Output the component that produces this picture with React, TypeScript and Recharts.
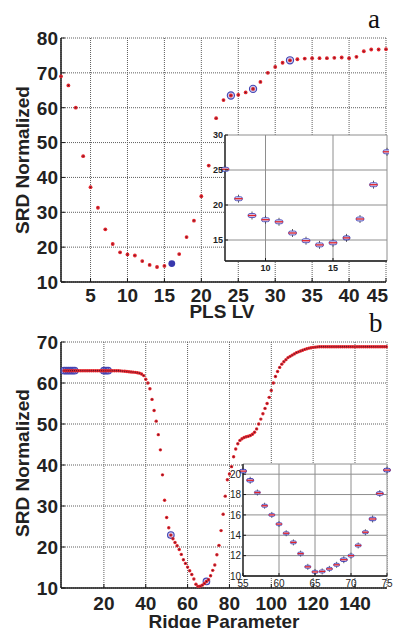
import { ScatterChart, Scatter, XAxis, YAxis, CartesianGrid } from 'recharts';

// ---- panel a: SRD vs PLS latent variables ----
const plsLv = [
  1, 2, 3, 4, 5, 6, 7, 8, 9, 10, 11, 12, 13, 14, 15, 16, 17, 18, 19, 20, 21, 22, 23,
  24, 25, 26, 27, 28, 29, 30, 31, 32, 33, 34, 35, 36, 37, 38, 39, 40, 41, 42, 43, 44, 45,
];
const srdPls = [
  69.0, 66.4, 60.0, 46.1, 37.2, 31.3, 25.1, 20.9, 18.5, 17.9, 17.6, 16.0, 14.9, 14.3, 14.6,
  15.3, 18.0, 22.9, 27.6, 34.6, 43.4, 57.0, 62.2, 63.5, 63.7, 64.4, 65.4, 67.4, 70.0, 71.7,
  72.9, 73.6, 73.9, 74.1, 74.2, 74.2, 74.2, 74.3, 74.4, 74.2, 74.6, 76.2, 76.7, 76.7, 76.8,
];
const plsRingLv = [24, 27, 32];
const plsFilledLv = [16];
const plsTicks = [5, 10, 15, 20, 25, 30, 35, 40, 45];
const srdTicksA = [10, 20, 30, 40, 50, 60, 70, 80];
const insetATicksX = [10, 15];
const insetATicksY = [15, 20, 25, 30];

// ---- panel b: SRD vs ridge parameter index ----
const srdRidge = [
  63.0, 63.0, 63.0, 63.0, 63.0, 63.0, 63.0, 63.0, 63.0, 63.0,
  63.0, 63.0, 63.0, 63.0, 63.0, 63.0, 63.0, 63.0, 63.0, 63.0,
  63.0, 63.0, 63.0, 63.0, 63.0, 63.0, 63.0, 62.95, 62.9, 62.85,
  62.8, 62.75, 62.7, 62.65, 62.6, 62.5, 62.4, 62.2, 61.8, 60.9,
  60.0, 58.6, 56.0, 53.3, 50.7, 47.4, 43.7, 37.6, 31.4, 27.2,
  24.7, 22.9, 22.0, 21.1, 20.3, 19.4, 18.2, 16.9, 16.0, 15.1,
  14.2, 13.3, 12.2, 10.9, 10.4, 10.45, 10.7, 11.1, 11.6, 12.0,
  13.0, 14.3, 15.6, 18.1, 20.4, 24.0, 28.0, 32.4, 36.4, 37.8,
  39.6, 42.0, 43.9, 45.2, 46.0, 46.4, 46.7, 46.9, 47.0, 47.2,
  47.5, 48.0, 48.8, 50.0, 51.2, 52.5, 53.8, 55.0, 56.5, 58.2,
  60.0, 61.6, 62.8, 63.8, 64.6, 65.2, 65.7, 66.2, 66.5, 66.8,
  67.1, 67.4, 67.6, 67.8, 68.0, 68.2, 68.35, 68.5, 68.6, 68.7,
  68.75, 68.8, 68.85, 68.85, 68.85, 68.85, 68.85, 68.85, 68.85, 68.85,
  68.85, 68.85, 68.85, 68.85, 68.85, 68.85, 68.85, 68.85, 68.85, 68.85,
  68.85, 68.85, 68.85, 68.85, 68.85, 68.85, 68.85, 68.85, 68.85, 68.85,
  68.85, 68.85, 68.85, 68.85, 68.85,
];
const ridgeBlue = [1, 2, 3, 4, 5, 6, 20, 21, 22, 52, 69];
const insetBBlue = [55, 56, 69, 73, 74, 75];
const ridgeTicks = [20, 40, 60, 80, 100, 120, 140];
const srdTicksB = [10, 20, 30, 40, 50, 60, 70];
const insetBTicksX = [55, 60, 65, 70, 75];
const insetBTicksY = [10, 12, 14, 16, 18, 20];

const FONT = '"Liberation Sans", Arial, Helvetica, sans-serif';
const SERIF = '"Liberation Serif", "Times New Roman", serif';
const RED = '#e3242b';
const BLUE = '#4444b2';
const FRAME = '#1a1a1a';

const plsPoints = plsLv.map((x, i) => ({ x, y: srdPls[i] }));
const pick = (pts: { x: number; y: number }[], xs: number[]) => pts.filter((p) => xs.includes(p.x));
const ridgePoints = srdRidge.map((y, i) => ({ x: i + 1, y }));

const bottomTick = (size: number, offset: number, weight: any, len: number, rightLimit = 9999) => (props: any) => {
  const { x, y, payload } = props;
  const atEdge = x + size * 0.6 > rightLimit;
  return (
    <g>
      <line x1={x} x2={x} y1={y} y2={y - len} stroke={FRAME} strokeWidth={1} />
      <text
        x={atEdge ? rightLimit : x}
        y={y + offset}
        dy="0.36em"
        textAnchor={atEdge ? 'end' : 'middle'}
        fontSize={size}
        fontWeight={weight}
        fontFamily={FONT}
        fill="#222"
      >
        {payload.value}
      </text>
    </g>
  );
};

const leftTick = (size: number, gap: number, weight: any, len: number) => (props: any) => {
  const { x, y, payload } = props;
  return (
    <g>
      <line x1={x} x2={x + len} y1={y} y2={y} stroke={FRAME} strokeWidth={1} />
      <text x={x - gap} y={y} dy="0.36em" textAnchor="end" fontSize={size} fontWeight={weight} fontFamily={FONT} fill="#222">
        {payload.value}
      </text>
    </g>
  );
};

const topTick = (len: number) => (props: any) => (
  <line x1={props.x} x2={props.x} y1={props.y} y2={props.y + len} stroke={FRAME} strokeWidth={1} />
);
const rightTick = (len: number) => (props: any) => (
  <line x1={props.x} x2={props.x - len} y1={props.y} y2={props.y} stroke={FRAME} strokeWidth={1} />
);

const redDot = (r: number) => (p: any) => (
  <g>
    <circle cx={p.cx} cy={p.cy} r={r} fill={RED} />
    <circle cx={p.cx} cy={p.cy} r={0.6} fill="#3a1830" />
  </g>
);
const blueRing = (r: number) => (p: any) => (
  <circle cx={p.cx} cy={p.cy} r={r} fill="rgba(110,110,205,0.35)" stroke={BLUE} strokeWidth={1.1} />
);
const blueFilled = (p: any) => <circle cx={p.cx} cy={p.cy} r={3.4} fill="#3838ad" />;
const boxMark = (w: number, h: number, edge = '#5050bb') => (p: any) => (
  <g>
    <line x1={p.cx} x2={p.cx} y1={p.cy - h} y2={p.cy + h} stroke="#333" strokeWidth={0.8} />
    <rect x={p.cx - w / 2} y={p.cy - h / 2} width={w} height={h} rx={h / 2} fill="#d4d4f2" stroke={edge} strokeWidth={0.9} />
    <line x1={p.cx - w / 2} x2={p.cx + w / 2} y1={p.cy} y2={p.cy} stroke={RED} strokeWidth={1.3} />
  </g>
);
const hidden = () => <g />;

interface FrameAxesProps {
  xDomain: number[];
  yDomain: number[];
  xTicks: number[];
  yTicks: number[];
}

// four axes giving a MATLAB-style box with inward ticks
function frameAxes(
  { xDomain, yDomain, xTicks, yTicks }: FrameAxesProps,
  xTick: any,
  yTick: any,
  xHeight: number,
  yWidth: number,
  len: number,
  stroke: number
) {
  const line = { stroke: FRAME, strokeWidth: stroke };
  return [
    <XAxis key="xb" type="number" dataKey="x" domain={xDomain} ticks={xTicks} height={xHeight} tickSize={0} tickMargin={0} tickLine={false} axisLine={line} tick={xTick} interval={0} />,
    <YAxis key="yl" type="number" dataKey="y" domain={yDomain} ticks={yTicks} width={yWidth} tickSize={0} tickMargin={0} tickLine={false} axisLine={line} tick={yTick} interval={0} />,
    <XAxis key="xt" xAxisId="t" orientation="top" type="number" dataKey="x" domain={xDomain} ticks={xTicks} height={0} tickSize={0} tickMargin={0} tickLine={false} axisLine={line} tick={topTick(len)} interval={0} />,
    <YAxis key="yr" yAxisId="r" orientation="right" type="number" dataKey="y" domain={yDomain} ticks={yTicks} width={0} tickSize={0} tickMargin={0} tickLine={false} axisLine={line} tick={rightTick(len)} interval={0} />,
  ];
}

export default function App() {
  const insetAPoints = plsPoints.filter((p) => p.x >= 7 && p.x <= 19);
  const insetBPoints = ridgePoints.filter((p) => p.x >= 55 && p.x <= 75);

  return (
    <div style={{ position: 'absolute', left: 0, top: 0, width: 395, height: 628, background: '#fff', overflow: 'hidden' }}>
      <svg width={395} height={628} style={{ position: 'absolute', left: 0, top: 0 }}>
        <text x={368} y={28} fontFamily={SERIF} fontSize={27} fill="#111">a</text>
        <text x={369} y={332} fontFamily={SERIF} fontSize={27} fill="#111">b</text>
        <text x={222} y={311} dy="0.36em" textAnchor="middle" fontFamily={FONT} fontWeight="bold" fontSize={19} fill="#222">PLS LV</text>
        <text x={224} y={621} dy="0.36em" textAnchor="middle" fontFamily={FONT} fontWeight="bold" fontSize={19} fill="#222">Ridge Parameter</text>
        <text x={22.5} y={160} dy="0.36em" textAnchor="middle" transform="rotate(-90 22.5 160)" fontFamily={FONT} fontWeight="bold" fontSize={19} fill="#222">SRD Normalized</text>
        <text x={22.5} y={463} dy="0.36em" textAnchor="middle" transform="rotate(-90 22.5 463)" fontFamily={FONT} fontWeight="bold" fontSize={19} fill="#222">SRD Normalized</text>
      </svg>

      {/* panel a */}
      <div style={{ position: 'absolute', left: 0, top: 0 }}>
        <ScatterChart width={395} height={314} margin={{ top: 38, right: 9, bottom: 0, left: 0 }}>
          <CartesianGrid stroke="#5e5e5e" strokeDasharray="1 1" />
          {frameAxes(
            { xDomain: [1, 45], yDomain: [10, 80], xTicks: plsTicks, yTicks: srdTicksA },
            bottomTick(19, 13, 'bold', 4, 388),
            leftTick(19, 3, 'bold', 4),
            32,
            61,
            4,
            1.5
          )}
          <Scatter xAxisId="t" yAxisId="r" data={plsPoints} shape={hidden} isAnimationActive={false} />
          <Scatter data={pick(plsPoints, plsRingLv)} shape={blueRing(3.6)} isAnimationActive={false} />
          <Scatter data={plsPoints} shape={redDot(1.9)} isAnimationActive={false} />
          <Scatter data={pick(plsPoints, plsFilledLv)} shape={blueFilled} isAnimationActive={false} />
        </ScatterChart>
      </div>

      {/* inset a */}
      <div style={{ position: 'absolute', left: 195, top: 127 }}>
        <ScatterChart width={194} height={150} margin={{ top: 8, right: 2, bottom: 0, left: 0 }}>
          <CartesianGrid stroke="#8e8e8e" fill="#fff" fillOpacity={1} />
          {frameAxes(
            { xDomain: [7, 19], yDomain: [12, 30], xTicks: insetATicksX, yTicks: insetATicksY },
            bottomTick(9, 7, 'bold', 3),
            leftTick(9, 2, 'bold', 3),
            16,
            30,
            3,
            1.3
          )}
          <Scatter xAxisId="t" yAxisId="r" data={insetAPoints} shape={hidden} isAnimationActive={false} />
          <Scatter data={insetAPoints.filter((p) => !plsFilledLv.includes(p.x))} shape={boxMark(8, 4)} isAnimationActive={false} />
          <Scatter data={pick(insetAPoints, plsFilledLv)} shape={boxMark(7, 4, '#2a2aa0')} isAnimationActive={false} />
        </ScatterChart>
      </div>

      {/* panel b */}
      <div style={{ position: 'absolute', left: 0, top: 314 }}>
        <ScatterChart width={395} height={314} margin={{ top: 28, right: 8, bottom: 0, left: 0 }}>
          <CartesianGrid stroke="#5e5e5e" strokeDasharray="1 1" />
          {frameAxes(
            { xDomain: [-0.5, 155.3], yDomain: [10, 70], xTicks: ridgeTicks, yTicks: srdTicksB },
            bottomTick(19, 15, 'bold', 4),
            leftTick(19, 3, 'bold', 4),
            40,
            61,
            4,
            1.5
          )}
          <Scatter xAxisId="t" yAxisId="r" data={ridgePoints} shape={hidden} isAnimationActive={false} />
          <Scatter data={pick(ridgePoints, ridgeBlue)} shape={blueRing(3.3)} isAnimationActive={false} />
          <Scatter data={ridgePoints} shape={redDot(1.7)} isAnimationActive={false} />
        </ScatterChart>
      </div>

      {/* inset b */}
      <div style={{ position: 'absolute', left: 213, top: 462 }}>
        <ScatterChart width={182} height={128} margin={{ top: 2, right: 8, bottom: 0, left: 0 }}>
          <CartesianGrid stroke="#8e8e8e" fill="#fff" fillOpacity={1} />
          {frameAxes(
            { xDomain: [55, 75], yDomain: [10, 21], xTicks: insetBTicksX, yTicks: insetBTicksY },
            bottomTick(10, 7, 'normal', 3),
            leftTick(10, 2, 'normal', 3),
            14,
            30,
            3,
            1.3
          )}
          <Scatter xAxisId="t" yAxisId="r" data={insetBPoints} shape={hidden} isAnimationActive={false} />
          <Scatter data={insetBPoints.filter((p) => !insetBBlue.includes(p.x))} shape={boxMark(6, 3)} isAnimationActive={false} />
          <Scatter data={pick(insetBPoints, insetBBlue)} shape={boxMark(7, 3.5, '#3030b0')} isAnimationActive={false} />
        </ScatterChart>
      </div>
    </div>
  );
}
